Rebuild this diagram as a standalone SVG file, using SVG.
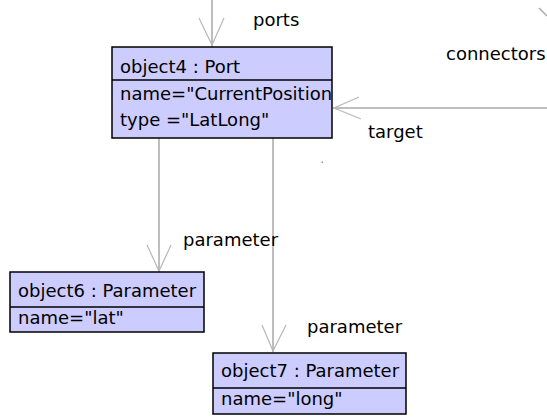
<svg xmlns="http://www.w3.org/2000/svg" width="547" height="417" viewBox="0 0 547 417">
<style>
  text { font-family: "DejaVu Sans", "Liberation Sans", sans-serif; font-size: 18px; fill: #000; }
  .box { fill: #ccccff; stroke: #000; stroke-width: 1.5; }
  .div { stroke: #000; stroke-width: 1.5; }
  .line { stroke: #a8a8a8; stroke-width: 1.5; fill: none; }
  .head { stroke: #b8b8b8; stroke-width: 1.2; fill: none; }
</style>
<defs>
  <clipPath id="clip4"><rect x="112" y="47" width="219" height="91"/></clipPath>
</defs>
<rect width="547" height="417" fill="#fff"/>
<g id="connectors">
  <line class="line" x1="212" y1="0" x2="212" y2="47"/>
  <polyline class="head" points="199,18 212,45 224,18"/>
  <line class="line" x1="547" y1="108" x2="333" y2="108"/>
  <polyline class="head" points="359,97 334,108 361,119"/>
  <line class="line" x1="159" y1="138" x2="159" y2="272"/>
  <polyline class="head" points="147,245 159,271 171,245"/>
  <line class="line" x1="273" y1="138" x2="273" y2="352"/>
  <polyline class="head" points="262,325 273,351 286,325"/>
  <line class="line" x1="539" y1="8" x2="547" y2="16"/>
  <rect x="321.5" y="161.5" width="1.5" height="1.5" fill="#999"/>
  <text x="253" y="26">ports</text>
  <text x="446" y="60">connectors</text>
  <text x="368" y="138">target</text>
  <text x="183" y="246">parameter</text>
  <text x="307" y="333">parameter</text>
</g>
<g id="object4">
  <rect class="box" x="112" y="47" width="220" height="91"/>
  <line class="div" x1="112" y1="80" x2="332" y2="80"/>
  <g clip-path="url(#clip4)">
    <text x="120" y="73">object4 : Port</text>
    <text x="120" y="100">name="CurrentPosition"</text>
    <text x="120" y="126">type ="LatLong"</text>
  </g>
</g>
<g id="object6">
  <rect class="box" x="10" y="272" width="194" height="60"/>
  <line class="div" x1="10" y1="307" x2="204" y2="307"/>
  <text x="18" y="297">object6 : Parameter</text>
  <text x="18" y="324">name="lat"</text>
</g>
<g id="object7">
  <rect class="box" x="213" y="353" width="193" height="61"/>
  <line class="div" x1="213" y1="388" x2="406" y2="388"/>
  <text x="221" y="377">object7 : Parameter</text>
  <text x="221" y="405">name="long"</text>
</g>
</svg>
